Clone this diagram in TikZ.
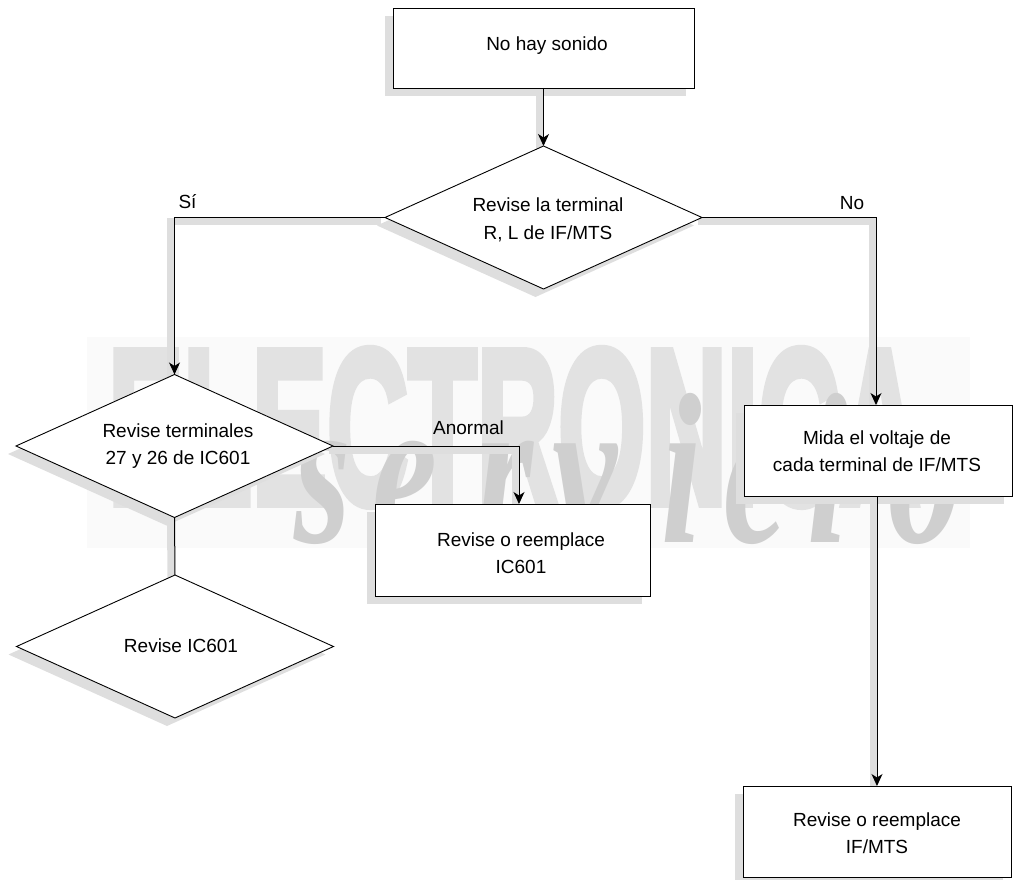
\documentclass[tikz,border=0pt]{standalone}
\usepackage{graphicx}
\usepackage{fontspec}
\setmainfont{Liberation Sans}
\newfontfamily\wmserif{Liberation Serif}
\newfontfamily\wmheavy{Liberation Sans}[BoldFeatures={FakeBold=4}]
\usetikzlibrary{shapes.geometric,arrows.meta,backgrounds}
\definecolor{shadowgray}{HTML}{DEDEDE}
\definecolor{wmback}{HTML}{FAFAFA}
\definecolor{wmsans}{HTML}{E2E2E2}
\definecolor{wmscript}{HTML}{CFCFCF}
\newcommand{\wmglyph}[1]{\scalebox{0.68}[1]{#1}}
\tikzset{
  boxnode/.style={draw=black,fill=white,line width=0.9pt,rectangle,inner sep=0pt,outer sep=0pt},
  decision/.style={draw=black,fill=white,line width=0.9pt,diamond,inner sep=0pt,outer sep=0pt,minimum width=317pt,minimum height=143pt},
  caption/.style={align=center,inner sep=0pt,font=\fontsize{19}{27.5}\selectfont,text=black},
  edgelabel/.style={inner sep=0pt,font=\fontsize{19}{27}\selectfont,text=black},
  link/.style={draw=black,line width=1pt},
  linkarrow/.style={link,-{Stealth[length=12pt,width=11pt,inset=3.5pt]}},
  shapeshadow/.style={fill=shadowgray,transform canvas={xshift=-8pt,yshift=-8pt}},
  linkshadow/.style={draw=shadowgray,line width=7pt,transform canvas={xshift=-4pt,yshift=-4pt}},
  wmletter/.style={inner sep=0pt,anchor=base,text=wmscript,font=\wmserif\bfseries\itshape\fontsize{215}{215}\selectfont},
}
\begin{document}
\begin{tikzpicture}[x=1pt,y=-1pt]
\useasboundingbox (0,0) rectangle (1013,880);

% shapes
\node[boxnode,minimum width=301pt,minimum height=80pt] (start) at (543.5,48) {};
\node[decision] (d1) at (543.5,217.5) {};
\node[decision] (d2) at (174.5,446) {};
\node[decision] (d3) at (175,646.5) {};
\node[boxnode,minimum width=275pt,minimum height=92pt] (r1) at (512.5,550) {};
\node[boxnode,minimum width=268pt,minimum height=91pt] (m) at (878,450.5) {};
\node[boxnode,minimum width=268pt,minimum height=91pt] (r2) at (877,831.5) {};

% texts
\node[caption] (t0) at (547,46) {No hay sonido};
\node[caption] (t1) at (548,220) {Revise la terminal\\R, L de IF/MTS};
\node[caption] (t2) at (178,446) {Revise terminales\\27 y 26 de IC601};
\node[caption] (t3) at (181,646) {Revise IC601};
\node[caption] (t4) at (521,553) {Revise o reemplace\\IC601};
\node[caption] (t5) at (877,451) {Mida el voltaje de\\cada terminal de IF/MTS};
\node[caption] (t6) at (877,833) {Revise o reemplace\\IF/MTS};
\node[edgelabel] (lsi) at (187.5,202) {Sí};
\node[edgelabel] (lno) at (852,203) {No};
\node[edgelabel] (lan) at (468.5,428) {Anormal};

% watermark and shadows
\begin{pgfonlayer}{background}
  \fill[wmback] (87,337) rectangle (970,548);
  \node[inner sep=0pt,anchor=north west,text=wmsans] (wm) at (108,349)
    {\resizebox{812pt}{154pt}{\wmheavy\bfseries ELECTRONICA}};
  \begin{scope}
    \clip (87,337) rectangle (970,552);
    \node[wmletter] (ws) at (323,542) {\wmglyph{s}};
    \node[wmletter] (we) at (405,542) {\wmglyph{e}};
    \node[wmletter] (wr) at (505,542) {\wmglyph{r}};
    \node[wmletter] (wv) at (585,542) {\wmglyph{v}};
    \node[wmletter] (wi) at (682,542) {\wmglyph{i}};
    \node[wmletter] (wc) at (757,542) {\wmglyph{c}};
    \node[wmletter] (wj) at (828,542) {\wmglyph{i}};
    \node[wmletter] (wo) at (925,542) {\wmglyph{o}};
  \end{scope}
  \fill[shapeshadow] (start.north west) rectangle (start.south east);
  \fill[shapeshadow] (r1.north west) rectangle (r1.south east);
  \fill[shapeshadow] (m.north west) rectangle (m.south east);
  \fill[shapeshadow] (r2.north west) rectangle (r2.south east);
  \fill[shapeshadow] (d1.north) -- (d1.east) -- (d1.south) -- (d1.west) -- cycle;
  \fill[shapeshadow] (d2.north) -- (d2.east) -- (d2.south) -- (d2.west) -- cycle;
  \fill[shapeshadow] (d3.north) -- (d3.east) -- (d3.south) -- (d3.west) -- cycle;
  \draw[linkshadow] (start.south) -- (d1.north);
  \draw[linkshadow] (d1.west) -| (d2.north);
  \draw[linkshadow] (d1.east) -| ([xshift=-2pt]m.north);
  \draw[linkshadow] (d2.east) -| ([xshift=6.5pt]r1.north);
  \draw[linkshadow] (d2.south) -- (d3.north);
  \draw[linkshadow] ([xshift=-1pt]m.south) -- (r2.north);
\end{pgfonlayer}

% connectors
\draw[linkarrow] (start.south) -- (d1.north);
\draw[linkarrow] (d1.west) -| (d2.north);
\draw[linkarrow] (d1.east) -| ([xshift=-2pt]m.north);
\draw[linkarrow] (d2.east) -| ([xshift=6.5pt]r1.north);
\draw[link] (d2.south) -- (d3.north);
\draw[linkarrow] ([xshift=-1pt]m.south) -- (r2.north);
\end{tikzpicture}
\end{document}
